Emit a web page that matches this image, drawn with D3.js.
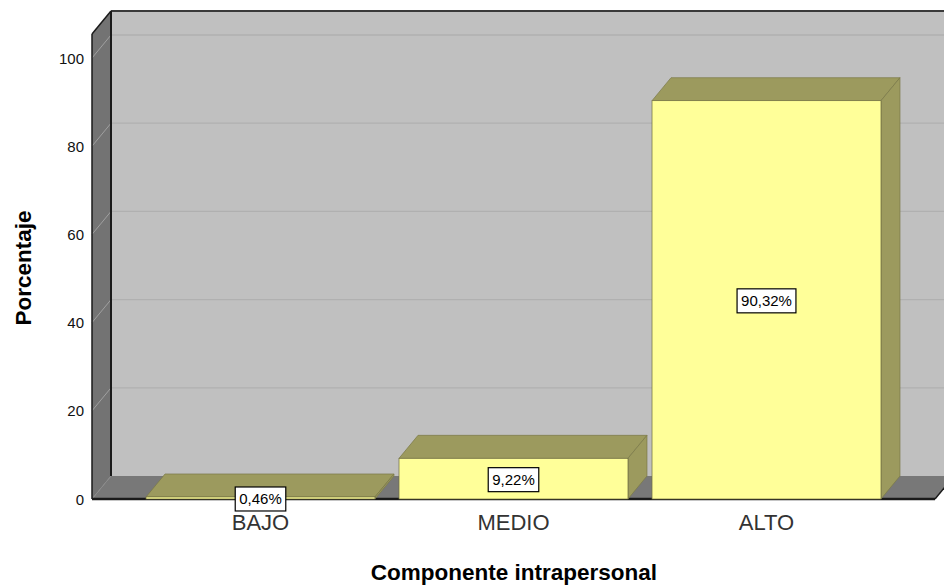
<!DOCTYPE html>
<html><head><meta charset="utf-8">
<script src="https://cdn.jsdelivr.net/npm/d3@7"></script>
<style>body{margin:0;background:#fff;}svg{display:block;font-family:"Liberation Sans",Arial,sans-serif;}</style>
</head><body>
<svg id="c" width="944" height="586"></svg>
<script>
const categories = ["BAJO", "MEDIO", "ALTO"];
const values = [0.46, 9.22, 90.32];
const valueLabels = ["0,46%", "9,22%", "90,32%"];
const yTicks = [0, 20, 40, 60, 80, 100];
const yTitle = "Porcentaje";
const xTitle = "Componente intrapersonal";

const svg = d3.select("#c");
const x0 = 92, x1 = 935, yBase = 499, yTop100 = 58;
const dx = 19, dy = -23;
const y = d3.scaleLinear().domain([0, 100]).range([yBase, yTop100]);
const x = d3.scaleBand().domain(categories).range([x0, x1]).paddingInner(0.095).paddingOuter(0.2135);
const wallTopY = 34;

// back wall
svg.append("rect").attr("x", x0 + dx).attr("y", wallTopY + dy).attr("width", 944 - x0 - dx + 20).attr("height", yBase - wallTopY)
  .attr("fill", "#c0c0c0");
// left wall
svg.append("polygon").attr("points", [[x0, wallTopY], [x0 + dx, wallTopY + dy], [x0 + dx, yBase + dy], [x0, yBase]].join(" "))
  .attr("fill", "#737373");
// floor
svg.append("polygon").attr("points", [[x0, yBase], [x0 + dx, yBase + dy], [x1 + dx, yBase + dy], [x1, yBase]].join(" "))
  .attr("fill", "#787878");

// grid lines
const g = svg.append("g");
yTicks.forEach(t => {
  if (t === 0) return;
  g.append("line").attr("x1", x0).attr("y1", y(t)).attr("x2", x0 + dx).attr("y2", y(t) + dy)
    .attr("stroke", "#a0a0a0").attr("stroke-width", 1);
  g.append("line").attr("x1", x0 + dx).attr("y1", y(t) + dy).attr("x2", 944).attr("y2", y(t) + dy)
    .attr("stroke", "#b0b0b0").attr("stroke-width", 1.3);
});
g.append("line").attr("x1", x0).attr("y1", yBase).attr("x2", x0 + dx).attr("y2", yBase + dy)
  .attr("stroke", "#8a8a8a").attr("stroke-width", 1);

// edges
svg.append("line").attr("x1", x0 + dx).attr("y1", wallTopY + dy).attr("x2", 944).attr("y2", wallTopY + dy)
  .attr("stroke", "#3a3a3a").attr("stroke-width", 2);
svg.append("line").attr("x1", x0 + dx).attr("y1", wallTopY + dy).attr("x2", x0 + dx).attr("y2", yBase + dy)
  .attr("stroke", "#1a1a1a").attr("stroke-width", 2);
svg.append("line").attr("x1", x0).attr("y1", wallTopY).attr("x2", x0 + dx).attr("y2", wallTopY + dy)
  .attr("stroke", "#1a1a1a").attr("stroke-width", 1.5);
svg.append("line").attr("x1", x0).attr("y1", wallTopY).attr("x2", x0).attr("y2", yBase)
  .attr("stroke", "#1a1a1a").attr("stroke-width", 1.5);
svg.append("line").attr("x1", x0).attr("y1", yBase).attr("x2", x1).attr("y2", yBase)
  .attr("stroke", "#1a1a1a").attr("stroke-width", 2.5);
svg.append("line").attr("x1", x1).attr("y1", yBase).attr("x2", x1 + dx).attr("y2", yBase + dy)
  .attr("stroke", "#1a1a1a").attr("stroke-width", 1.5);

// bars
const bars = svg.append("g").selectAll("g").data(categories).join("g");
bars.each(function (c, i) {
  const gg = d3.select(this);
  const bx = x(c), bw = x.bandwidth(), top = y(values[i]);
  gg.append("polygon").attr("points", [[bx, top], [bx + dx, top + dy], [bx + bw + dx, top + dy], [bx + bw, top]].join(" "))
    .attr("fill", "#9c9a5e").attr("stroke", "#7a7848").attr("stroke-width", 0.7);
  gg.append("polygon").attr("points", [[bx + bw, top], [bx + bw + dx, top + dy], [bx + bw + dx, yBase + dy], [bx + bw, yBase]].join(" "))
    .attr("fill", "#9c9a5e").attr("stroke", "#7a7848").attr("stroke-width", 0.7);
  gg.append("rect").attr("x", bx).attr("y", top).attr("width", bw).attr("height", yBase - top)
    .attr("fill", "#ffff99").attr("stroke", "#6e6c40").attr("stroke-width", 0.7);
});

// value labels
bars.each(function (c, i) {
  const gg = d3.select(this);
  const cx = x(c) + x.bandwidth() / 2;
  const cy = (y(values[i]) + yBase) / 2 + 1;
  const t = gg.append("text").attr("x", cx).attr("y", cy).attr("text-anchor", "middle").attr("dominant-baseline", "central")
    .attr("font-size", 15).attr("fill", "#000").text(valueLabels[i]);
  const bb = t.node().getBBox();
  gg.insert("rect", "text").attr("x", bb.x - 4).attr("y", cy - 12).attr("width", bb.width + 8).attr("height", 24)
    .attr("fill", "#fff").attr("stroke", "#000").attr("stroke-width", 1.2);
});

// y axis labels
svg.append("g").selectAll("text").data(yTicks).join("text")
  .attr("x", 84).attr("y", d => y(d)).attr("dominant-baseline", "central").attr("text-anchor", "end")
  .attr("font-size", 15).attr("fill", "#111").text(d => d);

// x axis labels
svg.append("g").selectAll("text").data(categories).join("text")
  .attr("x", d => x(d) + x.bandwidth() / 2).attr("y", 522).attr("dominant-baseline", "central").attr("text-anchor", "middle")
  .attr("font-size", 22).attr("fill", "#333").text(d => d);

// titles
svg.append("text").attr("transform", "translate(23,268) rotate(-90)").attr("text-anchor", "middle").attr("dominant-baseline", "central")
  .attr("font-size", 22.5).attr("font-weight", "bold").attr("fill", "#000").text(yTitle);
svg.append("text").attr("x", 514).attr("y", 572).attr("text-anchor", "middle").attr("dominant-baseline", "central")
  .attr("font-size", 22.5).attr("font-weight", "bold").attr("fill", "#000").text(xTitle);
</script>
</body></html>
